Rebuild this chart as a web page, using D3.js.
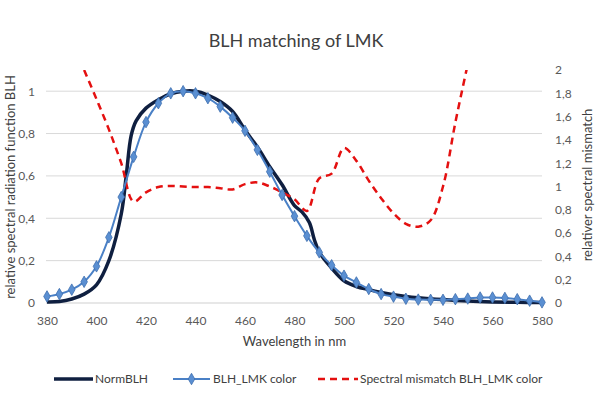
<!DOCTYPE html>
<html>
<head>
<meta charset="utf-8">
<script src="https://cdn.jsdelivr.net/npm/d3@7"></script>
<style>
  body { margin: 0; background: #fff; }
  svg { display: block; font-family: Lato, "Open Sans", sans-serif; }
</style>
</head>
<body>
<div id="chart"><svg width="600" height="398"></svg></div>
<script>
// Data
let blhNm = [380, 385, 390, 395, 400, 405, 410, 415, 420, 425, 430, 435, 440, 445, 450, 455, 460, 465, 470, 475,
  480, 485, 490, 495, 500, 505, 510, 515, 520, 525, 530, 535, 540, 545, 550, 555, 560, 565, 570, 575, 580];
let blhLmk = [0.031, 0.042, 0.063, 0.10, 0.173, 0.31, 0.50, 0.69, 0.854, 0.943, 0.99, 1.0, 0.99, 0.967, 0.927, 0.875, 0.813, 0.723, 0.62, 0.51,
  0.41, 0.317, 0.239, 0.178, 0.129, 0.097, 0.066, 0.042, 0.030, 0.020, 0.016, 0.015, 0.015, 0.018, 0.021, 0.026, 0.026, 0.024, 0.018, 0.011, 0.003];

let normNm = [380, 385, 390, 395, 400, 405, 410, 412, 414, 416, 420, 425, 430, 435, 440, 445, 450, 455, 460, 465, 470, 475,
  480, 483, 486, 488, 490, 495, 500, 505, 510, 515, 520, 525, 530, 540, 550, 560, 570, 580];
let normBlh = [0.005, 0.007, 0.019, 0.042, 0.086, 0.20, 0.42, 0.60, 0.79, 0.86, 0.92, 0.96, 0.988, 1.0, 1.0, 0.982, 0.951, 0.904, 0.817, 0.736, 0.644, 0.558,
  0.46, 0.43, 0.38, 0.30, 0.24, 0.165, 0.105, 0.078, 0.063, 0.05, 0.039, 0.031, 0.025, 0.016, 0.009, 0.005, 0.003, 0.002];

let mismatchNm = [395, 400, 405, 410, 415, 420, 425, 430, 435, 440, 445, 450, 455, 460, 465, 470, 475, 480, 485, 490,
  495, 500, 505, 510, 515, 520, 525, 530, 535, 540, 545, 550];
let mismatch = [2.0, 1.75, 1.49, 1.2, 0.87, 0.95, 0.995, 1.005, 1.0, 0.995, 0.995, 0.985, 0.975, 1.02, 1.035, 1.0, 0.95, 0.89, 0.79, 1.07,
  1.11, 1.33, 1.22, 1.05, 0.9, 0.77, 0.68, 0.655, 0.71, 1.0, 1.55, 2.05];

let xTicks = [380, 400, 420, 440, 460, 480, 500, 520, 540, 560, 580];
let leftTicks = [0, 0.2, 0.4, 0.6, 0.8, 1];
let rightTicks = [0, 0.2, 0.4, 0.6, 0.8, 1, 1.2, 1.4, 1.6, 1.8, 2];

let svg = d3.select("div#chart svg"),
  margin = { top: 70, right: 58, bottom: 95, left: 47 },
  width = svg.attr("width") - margin.left - margin.right,
  height = svg.attr("height") - margin.top - margin.bottom,
  g = svg.append("g").attr("transform", "translate(" + margin.left + "," + margin.top + ")");

let textColor = "#595959";
let navy = "#0f1f40", blue = "#4a80c6", red = "#e41010";
let fmt = d => String(d).replace(".", ",");

let x = d3.scaleLinear().domain([380, 580]).range([0, width]);
let yL = d3.scaleLinear().domain([0, 1.1]).range([height, 0]);
let yR = d3.scaleLinear().domain([0, 2]).range([height, 0]);

// Gridlines
g.append("g")
  .selectAll("line")
  .data(leftTicks)
  .enter()
  .append("line")
    .attr("x1", -1)
    .attr("x2", width)
    .attr("y1", d => yL(d))
    .attr("y2", d => yL(d))
    .attr("stroke", d => d == 0 ? "#cfcfcf" : "#d9d9d9")
    .attr("stroke-width", 1);

// Axes
let xAxis = g.append("g")
  .attr("transform", "translate(0," + height + ")")
  .call(d3.axisBottom(x).tickValues(xTicks).tickSize(0).tickPadding(13).tickFormat(d3.format("d")));
xAxis.select(".domain").remove();

let leftAxis = g.append("g")
  .call(d3.axisLeft(yL).tickValues(leftTicks).tickSize(0).tickPadding(12).tickFormat(fmt));
leftAxis.select(".domain").remove();

let rightAxis = g.append("g")
  .attr("transform", "translate(" + width + ",0)")
  .call(d3.axisRight(yR).tickValues(rightTicks).tickSize(0).tickPadding(13).tickFormat(fmt));
rightAxis.select(".domain").remove();

svg.selectAll(".tick text")
  .style("font-family", "Lato, sans-serif")
  .style("font-size", "12px")
  .style("fill", textColor);

// Clip
svg.append("defs").append("clipPath")
  .attr("id", "plot-clip")
  .append("rect")
    .attr("x", -10)
    .attr("y", 0)
    .attr("width", width + 20)
    .attr("height", height + 10);

let plot = g.append("g").attr("clip-path", "url(#plot-clip)");

// NormBLH
let normData = normNm.map((d, i) => ({ nm: d, v: normBlh[i] }));
let lineL = d3.line()
  .x(d => x(d.nm))
  .y(d => yL(d.v))
  .curve(d3.curveCatmullRom.alpha(0.5));

plot.append("path")
  .datum(normData)
  .attr("d", lineL)
  .attr("fill", "none")
  .attr("stroke", navy)
  .attr("stroke-width", 3.5)
  .attr("stroke-linejoin", "round");

// Spectral mismatch (right axis)
let misData = mismatchNm.map((d, i) => ({ nm: d, v: mismatch[i] }));
let lineR = d3.line()
  .x(d => x(d.nm))
  .y(d => yR(d.v))
  .curve(d3.curveCatmullRom.alpha(0.5));

plot.append("path")
  .datum(misData)
  .attr("d", lineR)
  .attr("fill", "none")
  .attr("stroke", red)
  .attr("stroke-width", 2.5)
  .attr("stroke-dasharray", "7,5");

// BLH_LMK color
let lmkData = blhNm.map((d, i) => ({ nm: d, v: blhLmk[i] }));
plot.append("path")
  .datum(lmkData)
  .attr("d", lineL)
  .attr("fill", "none")
  .attr("stroke", blue)
  .attr("stroke-width", 2);

let diamond = d3.symbol().type(d3.symbolDiamond).size(38);
plot.selectAll("path.marker")
  .data(lmkData)
  .enter()
  .append("path")
    .attr("class", "marker")
    .attr("d", diamond)
    .attr("transform", d => "translate(" + x(d.nm) + "," + yL(d.v) + ")")
    .attr("fill", "#5a8fd2")
    .attr("stroke", "#3f6fae")
    .attr("stroke-width", 0.8);

// Titles
svg.append("text")
  .attr("x", 296)
  .attr("y", 47)
  .attr("text-anchor", "middle")
  .style("font-size", "18px")
  .style("fill", "#404040")
  .text("BLH matching of LMK");

svg.append("text")
  .attr("x", margin.left + width / 2)
  .attr("y", 346)
  .attr("text-anchor", "middle")
  .style("font-size", "13px")
  .style("fill", "#404040")
  .text("Wavelength in nm");

svg.append("text")
  .attr("transform", "translate(10," + 187 + ") rotate(-90)")
  .attr("text-anchor", "middle")
  .attr("dy", "0.35em")
  .style("font-size", "13px")
  .style("fill", "#404040")
  .text("relative spectral radiation function BLH");

svg.append("text")
  .attr("transform", "translate(587," + 185 + ") rotate(-90)")
  .attr("text-anchor", "middle")
  .attr("dy", "0.35em")
  .style("font-size", "13px")
  .style("fill", "#404040")
  .text("relativer spectral mismatch");

// Legend
let legendY = 379;
let legend = svg.append("g").attr("class", "legend");

legend.append("line")
  .attr("x1", 54).attr("x2", 93)
  .attr("y1", legendY).attr("y2", legendY)
  .attr("stroke", navy).attr("stroke-width", 3.5);
legend.append("text")
  .attr("x", 95).attr("y", legendY).attr("dy", "0.35em")
  .style("font-size", "12px").style("fill", "#404040")
  .text("NormBLH");

legend.append("line")
  .attr("x1", 173).attr("x2", 210)
  .attr("y1", legendY).attr("y2", legendY)
  .attr("stroke", blue).attr("stroke-width", 2);
legend.append("path")
  .attr("d", diamond)
  .attr("transform", "translate(191.5," + legendY + ")")
  .attr("fill", "#5a8fd2").attr("stroke", "#3f6fae").attr("stroke-width", 0.8);
legend.append("text")
  .attr("x", 213).attr("y", legendY).attr("dy", "0.35em")
  .style("font-size", "12px").style("fill", "#404040")
  .text("BLH_LMK color");

legend.append("line")
  .attr("x1", 318).attr("x2", 358)
  .attr("y1", legendY).attr("y2", legendY)
  .attr("stroke", red).attr("stroke-width", 2.5)
  .attr("stroke-dasharray", "7,5");
legend.append("text")
  .attr("x", 360).attr("y", legendY).attr("dy", "0.35em")
  .style("font-size", "12px").style("fill", "#404040")
  .text("Spectral mismatch BLH_LMK color");
</script>
</body>
</html>
